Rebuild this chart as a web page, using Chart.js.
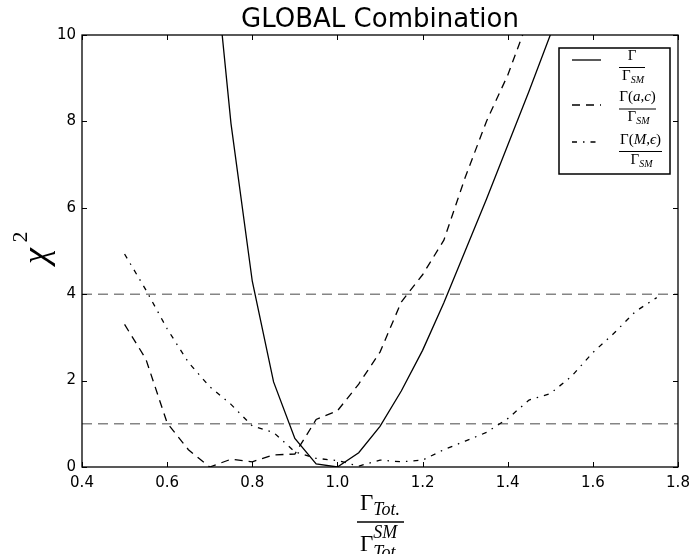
<!DOCTYPE html>
<html>
<head>
<meta charset="utf-8">
<script src="https://cdn.jsdelivr.net/npm/chart.js"></script>
<style>
  body { margin: 0; background: #fff; }
  canvas { display: block; }
</style>
</head>
<body>
<canvas id="myChart" width="690" height="554"></canvas>
<script>
// values
const xValues = [0.50, 0.55, 0.60, 0.65, 0.70, 0.75, 0.80, 0.85, 0.90, 0.95, 1.00, 1.05, 1.10,
  1.15, 1.20, 1.25, 1.30, 1.35, 1.40, 1.45, 1.50, 1.55, 1.60, 1.65, 1.70, 1.75];
const chiTotal = [null, null, null, null, 12.9, 7.95, 4.3, 1.97, 0.66, 0.07, 0.0, 0.33, 0.94,
  1.76, 2.7, 3.8, 5.0, 6.2, 7.45, 8.7, 10.0, 11.2, null, null, null, null];
const chiAC = [3.3, 2.5, 1.02, 0.4, 0.0, 0.18, 0.12, 0.28, 0.3, 1.1, 1.3, 1.92, 2.66,
  3.82, 4.45, 5.25, 6.7, 8.0, 9.07, 10.4, null, null, null, null, null, null];
const chiME = [4.93, 4.1, 3.2, 2.42, 1.86, 1.45, 0.95, 0.8, 0.35, 0.2, 0.15, 0.02, 0.16,
  0.12, 0.16, 0.4, 0.6, 0.8, 1.12, 1.55, 1.7, 2.1, 2.65, 3.1, 3.6, 3.92];
const refLevels = [1, 4];
const xTicks = [0.4, 0.6, 0.8, 1.0, 1.2, 1.4, 1.6, 1.8];
const yTicks = [0, 2, 4, 6, 8, 10];
const titleText = "GLOBAL Combination";

const serif = '"Liberation Serif", "DejaVu Serif", serif';
const sans = '"DejaVu Sans", sans-serif';

function toPoints(values) {
  return xValues.map((x, i) => ({ x: x, y: values[i] }));
}

// draw a row of text pieces with different fonts, centred on cx
function drawPieces(ctx, pieces, cx, baseline) {
  let total = 0;
  pieces.forEach((p) => {
    ctx.font = p.f;
    p.w = ctx.measureText(p.t).width;
    total += p.w;
  });
  let x = cx - total / 2;
  ctx.textAlign = "left";
  ctx.textBaseline = "alphabetic";
  pieces.forEach((p) => {
    ctx.font = p.f;
    ctx.fillText(p.t, x, baseline + (p.dy || 0));
    x += p.w;
  });
}

function up(size) { return size + "px " + serif; }
function it(size) { return "italic " + size + "px " + serif; }

const legendLabels = [
  {
    num: [{ t: "Γ", f: up(15) }],
    den: [{ t: "Γ", f: up(15) }, { t: "SM", f: it(10), dy: 3 }],
    sampleY: 60, lineY: 67.5, x1: 619, x2: 645,
  },
  {
    num: [{ t: "Γ(", f: up(15) }, { t: "a", f: it(15) }, { t: ",", f: up(15) },
      { t: "c", f: it(15) }, { t: ")", f: up(15) }],
    den: [{ t: "Γ", f: up(15) }, { t: "SM", f: it(10), dy: 3 }],
    sampleY: 105, lineY: 109, x1: 619, x2: 656,
  },
  {
    num: [{ t: "Γ(", f: up(15) }, { t: "M", f: it(15) }, { t: ",", f: up(15) },
      { t: "ϵ", f: it(15) }, { t: ")", f: up(15) }],
    den: [{ t: "Γ", f: up(15) }, { t: "SM", f: it(10), dy: 3 }],
    sampleY: 142, lineY: 151.5, x1: 619, x2: 662,
  },
];

const decorPlugin = {
  id: "decor",
  afterDraw(chart) {
    const ctx = chart.ctx;
    const area = chart.chartArea;
    const xs = chart.scales.x;
    const ys = chart.scales.y;
    ctx.save();

    // frame
    ctx.strokeStyle = "#000";
    ctx.lineWidth = 1.3;
    ctx.setLineDash([]);
    ctx.strokeRect(area.left, area.top, area.right - area.left, area.bottom - area.top);

    // inward ticks on all four sides
    ctx.lineWidth = 1;
    ctx.beginPath();
    xTicks.forEach((v) => {
      const px = Math.round(xs.getPixelForValue(v)) + 0.5;
      ctx.moveTo(px, area.bottom);
      ctx.lineTo(px, area.bottom - 5);
      ctx.moveTo(px, area.top);
      ctx.lineTo(px, area.top + 5);
    });
    yTicks.forEach((v) => {
      const py = Math.round(ys.getPixelForValue(v)) + 0.5;
      ctx.moveTo(area.left, py);
      ctx.lineTo(area.left + 5, py);
      ctx.moveTo(area.right, py);
      ctx.lineTo(area.right - 5, py);
    });
    ctx.stroke();

    // title
    ctx.fillStyle = "#000";
    ctx.font = "26px " + sans;
    ctx.textAlign = "center";
    ctx.textBaseline = "alphabetic";
    ctx.fillText(titleText, (area.left + area.right) / 2, 27);

    // y axis label chi^2
    ctx.save();
    ctx.translate(38, 250);
    ctx.rotate(-Math.PI / 2);
    ctx.textAlign = "center";
    ctx.textBaseline = "middle";
    ctx.font = it(36);
    ctx.fillText("χ", -6, 0);
    ctx.font = up(22);
    ctx.fillText("2", 13, -17);
    ctx.restore();

    // x axis label fraction
    const cx = (area.left + area.right) / 2;
    drawPieces(ctx, [{ t: "Γ", f: up(23) }, { t: "Tot.", f: it(18), dy: 5 }], cx, 510);
    ctx.lineWidth = 1.5;
    ctx.beginPath();
    ctx.moveTo(357, 522);
    ctx.lineTo(404, 522);
    ctx.stroke();
    ctx.font = up(23);
    const gw = ctx.measureText("Γ").width;
    ctx.font = it(18);
    const tw = ctx.measureText("Tot.").width;
    const dx0 = cx - (gw + tw) / 2;
    ctx.font = up(23);
    ctx.textAlign = "left";
    ctx.fillText("Γ", dx0, 551);
    ctx.font = it(18);
    ctx.fillText("SM", dx0 + gw, 538);
    ctx.fillText("Tot.", dx0 + gw, 558);

    // legend
    ctx.fillStyle = "#fff";
    ctx.fillRect(559, 48, 111, 126);
    ctx.strokeStyle = "#000";
    ctx.lineWidth = 1.5;
    ctx.strokeRect(559, 48, 111, 126);
    legendLabels.forEach((item, i) => {
      const ds = chart.data.datasets[i];
      ctx.strokeStyle = ds.borderColor;
      ctx.lineWidth = ds.borderWidth;
      ctx.setLineDash(ds.borderDash || []);
      ctx.beginPath();
      ctx.moveTo(572, item.sampleY);
      ctx.lineTo(601, item.sampleY);
      ctx.stroke();
      ctx.setLineDash([]);
      ctx.lineWidth = 1;
      ctx.beginPath();
      ctx.moveTo(item.x1, item.lineY);
      ctx.lineTo(item.x2, item.lineY);
      ctx.stroke();
      ctx.fillStyle = "#000";
      const mid = (item.x1 + item.x2) / 2;
      drawPieces(ctx, item.num, mid, item.lineY - 8);
      drawPieces(ctx, item.den, mid + 1, item.lineY + 12);
    });

    ctx.restore();
  },
};

function refLine(level) {
  return {
    label: "ref " + level,
    data: [{ x: 0.4, y: level }, { x: 1.8, y: level }],
    borderColor: "#858585",
    borderWidth: 1.5,
    borderDash: [10, 6],
    pointRadius: 0,
  };
}

const ctx = document.getElementById("myChart");
new Chart(ctx, {
  type: "line",
  data: {
    datasets: [
      {
        label: "Γ/Γ_SM",
        data: toPoints(chiTotal),
        borderColor: "#000",
        borderWidth: 1.3,
        pointRadius: 0,
      },
      {
        label: "Γ(a,c)/Γ_SM",
        data: toPoints(chiAC),
        borderColor: "#000",
        borderWidth: 1.3,
        borderDash: [8, 6],
        pointRadius: 0,
      },
      {
        label: "Γ(M,ϵ)/Γ_SM",
        data: toPoints(chiME),
        borderColor: "#000",
        borderWidth: 1.3,
        borderDash: [5, 6, 1.5, 6],
        pointRadius: 0,
      },
      refLine(refLevels[0]),
      refLine(refLevels[1]),
    ],
  },
  options: {
    responsive: false,
    animation: false,
    layout: { padding: { top: 35, right: 12, left: 0, bottom: 0 } },
    plugins: {
      legend: { display: false },
      title: { display: false },
      tooltip: { enabled: false },
    },
    scales: {
      x: {
        type: "linear",
        min: 0.4,
        max: 1.8,
        afterFit: (s) => { s.height = 87; s.paddingLeft = 0; s.paddingRight = 0; },
        afterBuildTicks: (s) => { s.ticks = xTicks.map((v) => ({ value: v })); },
        grid: { display: false, drawTicks: false },
        border: { display: false },
        ticks: {
          padding: 7,
          color: "#000",
          font: { family: "DejaVu Sans", size: 15 },
          callback: (v) => v.toFixed(1),
        },
      },
      y: {
        type: "linear",
        min: 0,
        max: 10,
        afterFit: (s) => { s.width = 82; s.paddingTop = 0; s.paddingBottom = 0; },
        afterBuildTicks: (s) => { s.ticks = yTicks.map((v) => ({ value: v })); },
        grid: { display: false, drawTicks: false },
        border: { display: false },
        ticks: {
          padding: 6,
          color: "#000",
          font: { family: "DejaVu Sans", size: 15 },
        },
      },
    },
  },
  plugins: [decorPlugin],
});
</script>
</body>
</html>
